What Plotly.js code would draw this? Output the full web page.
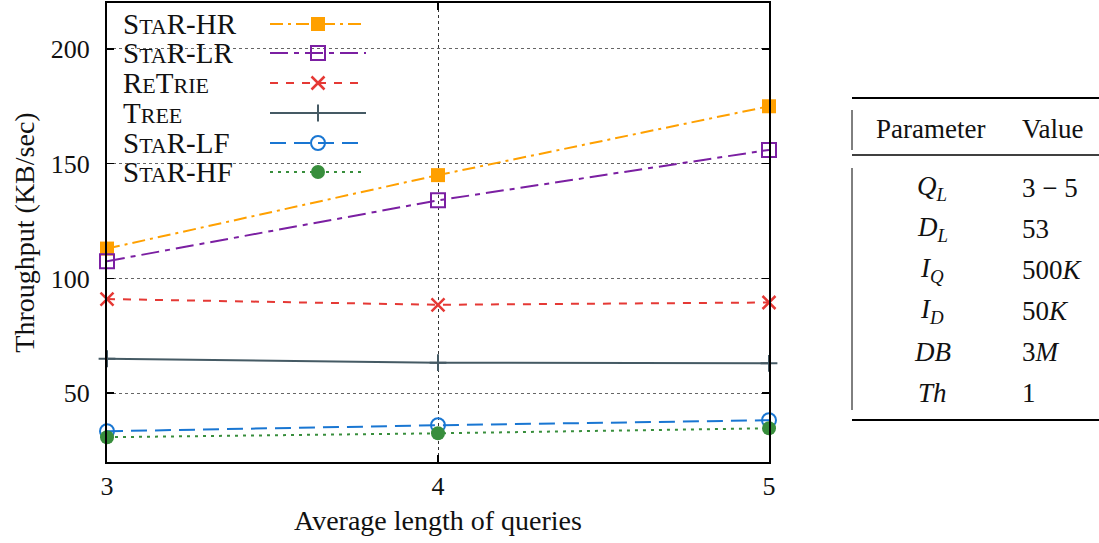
<!DOCTYPE html>
<html>
<head>
<meta charset="utf-8">
<script src="https://cdn.plot.ly/plotly-3.0.1.min.js"></script>
<style>html,body{margin:0;padding:0;background:#fff;}#chart{width:1099px;height:543px;}</style>
</head>
<body>
<div id="chart"></div>
<script>
// ---- data ----
const queryLengths = [3, 4, 5];
const seriesNames = [
  "S<span style='font-size:22px'>TA</span>R-HR",
  "S<span style='font-size:22px'>TA</span>R-LR",
  "R<span style='font-size:22px'>E</span>T<span style='font-size:22px'>RIE</span>",
  "T<span style='font-size:22px'>REE</span>",
  "S<span style='font-size:22px'>TA</span>R-LF",
  "S<span style='font-size:22px'>TA</span>R-HF"
];
const starHR = [113, 145, 175];
const starLR = [107.5, 134, 156];
const reTrie = [91, 88.5, 89.5];
const tree = [65, 63.3, 63];
const starLF = [33.4, 36, 38.2];
const starHF = [30.8, 32.5, 34.7];
const yTicks = [50, 100, 150, 200];
const xTicks = [3, 4, 5];
const tableHeader = ["Parameter", "Value"];
const tableParams = ["<i>Q</i><sub><i>L</i></sub>", "<i>D</i><sub><i>L</i></sub>", "<i>I</i><sub><i>Q</i></sub>", "<i>I</i><sub><i>D</i></sub>", "<i>DB</i>", "<i>Th</i>"];
const tableValues = ["3 \u2212 5", "53", "500<i>K</i>", "50<i>K</i>", "3<i>M</i>", "1"];

// ---- styles ----
const FONT = "Liberation Serif";
const styles = [
  {color: "#FFA000", dash: "13px,5px,3px,5px", symbol: "square", size: 14, lw: 0},
  {color: "#7B1FA2", dash: "18px,6px,5px,6px", symbol: "square-open", size: 14, lw: 2},
  {color: "#E53935", dash: "8px,8px", symbol: "x-thin-open", size: 13, lw: 2.5},
  {color: "#455A64", dash: "solid", symbol: "cross-thin-open", size: 12, lw: 2},
  {color: "#1976D2", dash: "16px,8px", symbol: "circle-open", size: 14, lw: 2},
  {color: "#388E3C", dash: "3px,5px", symbol: "circle", size: 14, lw: 0}
];
const allSeries = [starHR, starLR, reTrie, tree, starLF, starHF];

const L = 107, T = 3, B = 462, W = 1099 - L, H = B - T;
const px = x => (x - L) / W;
const py = y => (B - y) / H;

const traces = [];
allSeries.forEach((vals, i) => {
  const s = styles[i];
  traces.push({
    x: queryLengths, y: vals, type: "scatter", mode: "lines+markers",
    cliponaxis: false, showlegend: false, hoverinfo: "skip",
    line: {color: s.color, width: 2, dash: s.dash},
    marker: {symbol: s.symbol, size: s.size, color: s.color, line: {color: s.color, width: s.lw}}
  });
});

const legendRows = [24, 53, 83, 113, 143, 172];
const annotations = [];
styles.forEach((s, i) => {
  const yy = legendRows[i];
  traces.push({
    x: [270, 366], y: [yy, yy], xaxis: "x2", yaxis: "y2", type: "scatter", mode: "lines",
    showlegend: false, hoverinfo: "skip", cliponaxis: false,
    line: {color: s.color, width: 2, dash: s.dash}
  });
  traces.push({
    x: [318], y: [yy], xaxis: "x2", yaxis: "y2", type: "scatter", mode: "markers",
    showlegend: false, hoverinfo: "skip", cliponaxis: false,
    marker: {symbol: s.symbol, size: s.size, color: s.color, line: {color: s.color, width: s.lw}}
  });
  annotations.push({
    xref: "paper", yref: "paper", x: px(121), y: py(yy), xanchor: "left", yanchor: "middle",
    text: seriesNames[i], showarrow: false, font: {family: FONT, size: 29, color: "#111"}
  });
});

const shapes = [
  {type: "rect", xref: "paper", yref: "paper", x0: px(109), x1: px(376), y0: py(186), y1: py(5),
   fillcolor: "#fff", line: {width: 0}, layer: "between"},
  {type: "line", xref: "paper", yref: "paper", x0: px(852), x1: px(1099), y0: py(98), y1: py(98), line: {color: "#000", width: 2}},
  {type: "line", xref: "paper", yref: "paper", x0: px(852), x1: px(1099), y0: py(155), y1: py(155), line: {color: "#000", width: 1.5}},
  {type: "line", xref: "paper", yref: "paper", x0: px(852), x1: px(1099), y0: py(420), y1: py(420), line: {color: "#000", width: 2}},
  {type: "line", xref: "paper", yref: "paper", x0: px(852), x1: px(852), y0: py(110), y1: py(150), line: {color: "#000", width: 1}},
  {type: "line", xref: "paper", yref: "paper", x0: px(852), x1: px(852), y0: py(168), y1: py(410), line: {color: "#000", width: 1}}
];
const TF = {family: FONT, size: 27, color: "#111"};
annotations.push({xref: "paper", yref: "paper", x: px(930), y: py(129), xanchor: "center", yanchor: "middle",
  text: tableHeader[0], showarrow: false, font: TF});
annotations.push({xref: "paper", yref: "paper", x: px(1020), y: py(129), xanchor: "left", yanchor: "middle",
  text: tableHeader[1], showarrow: false, font: TF});
const rowY = [188, 229, 270, 311, 352, 393];
tableParams.forEach((p, i) => {
  annotations.push({xref: "paper", yref: "paper", x: px(932), y: py(rowY[i]), xanchor: "center", yanchor: "middle",
    text: p, showarrow: false, font: TF});
  annotations.push({xref: "paper", yref: "paper", x: px(1020), y: py(rowY[i]), xanchor: "left", yanchor: "middle",
    text: tableValues[i], showarrow: false, font: TF});
});

const plotDomain = [0, (769 - L) / W];
const layout = {
  width: 1099, height: 543,
  margin: {l: L, r: 0, t: T, b: 543 - B, pad: 0},
  paper_bgcolor: "#fff", plot_bgcolor: "#fff",
  font: {family: FONT, size: 25, color: "#111"},
  showlegend: false,
  xaxis: {
    domain: plotDomain, range: [3, 5], tickvals: xTicks, ticktext: xTicks.map(String),
    showline: true, linecolor: "#000", linewidth: 2, mirror: "ticks",
    ticks: "inside", ticklen: 7, tickcolor: "#000", tickwidth: 1.5,
    showgrid: true, gridcolor: "#333", griddash: "dot", gridwidth: 1, zeroline: false,
    ticklabelstandoff: 0, tickfont: {family: FONT, size: 26, color: "#111"},
    title: {text: "Average length of queries", font: {family: FONT, size: 28, color: "#111"}, standoff: 10}
  },
  yaxis: {
    range: [20, 220], tickvals: yTicks, ticktext: yTicks.map(String),
    showline: true, linecolor: "#000", linewidth: 2, mirror: "ticks",
    ticks: "inside", ticklen: 7, tickcolor: "#000", tickwidth: 1.5,
    showgrid: true, gridcolor: "#666", griddash: "dot", gridwidth: 1, zeroline: false,
    ticklabelstandoff: 10, tickfont: {family: FONT, size: 26, color: "#111"},
    title: {text: "Throughput (KB/sec)", font: {family: FONT, size: 28, color: "#111"}, standoff: 8}
  },
  xaxis2: {domain: plotDomain, range: [L, 769], overlaying: "x", anchor: "y2", visible: false, fixedrange: true},
  yaxis2: {range: [B, T], overlaying: "y", anchor: "x2", visible: false, fixedrange: true},
  shapes: shapes,
  annotations: annotations
};

Plotly.newPlot("chart", traces, layout, {displayModeBar: false, staticPlot: true});
</script>
</body>
</html>
